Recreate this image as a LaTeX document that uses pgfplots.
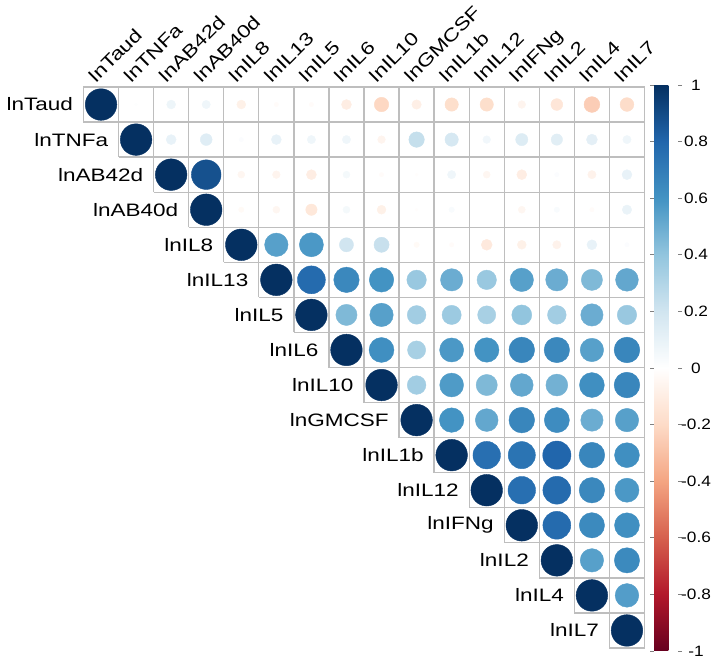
\documentclass[border=0pt]{standalone}
\usepackage{pgfplots}
\pgfplotsset{compat=1.18}
\usepackage{fontspec}
\setmainfont{Liberation Sans}
\definecolor{gridc}{HTML}{BEBEBE}
\newcommand\lab{\fontsize{18}{21}\selectfont}
\newcommand\st[1]{\scalebox{1.25}[1]{#1}}
\tikzset{rl/.style={anchor=east, font=\lab, xshift=-7pt},
         cl/.style={rotate=45, anchor=base west, font=\lab, inner sep=0pt, xshift=-1pt, yshift=6pt}}
\begin{document}
\begin{tikzpicture}
\begin{axis}[
  at={(0,0)}, anchor=south west,
  scale only axis, width=561pt, height=561pt,
  xmin=0.5, xmax=16.5, ymin=0.5, ymax=16.5, y dir=reverse,
  axis line style={draw=none}, xtick=\empty, ytick=\empty,
  clip=false,
  colormap={rdbu}{HTML=(67001F) HTML=(B2182B) HTML=(D6604D) HTML=(F4A582) HTML=(FDDBC7) HTML=(FFFFFF) HTML=(D1E5F0) HTML=(92C5DE) HTML=(4393C3) HTML=(2166AC) HTML=(053061)},
  point meta min=-1, point meta max=1,
  colorbar,
  colorbar style={
    at={(parent axis.north east)}, anchor=north west, xshift=1pt, yshift=2pt,
    width=24pt, height=566pt,
    ytick={-1,-0.8,-0.6,-0.4,-0.2,0,0.2,0.4,0.6,0.8,1},
    yticklabel={\scalebox{1.15}[1]{\pgfmathprintnumber[fixed,precision=1,assume math mode=true]{\tick}}},
    yticklabel style={font=\fontsize{15}{17}\selectfont, anchor=center, xshift=14pt},
    tick align=outside, major tick length=4pt, tick style={gray, line width=0.8pt},
    axis line style={draw=none},
  },
]
% grid
\draw[gridc, line width=1.3pt] (axis cs:0.5,0.5) -- (axis cs:16.5,0.5);
\draw[gridc, line width=1.3pt] (axis cs:16.5,0.5) -- (axis cs:16.5,16.5);
\pgfplotsinvokeforeach{1,...,16}{
  \draw[gridc, line width=1.3pt] (axis cs:#1-0.5,0.5) -- (axis cs:#1-0.5,#1+0.5);
  \draw[gridc, line width=1.3pt] (axis cs:#1-0.5,#1+0.5) -- (axis cs:16.5,#1+0.5);
}
\addplot[scatter, only marks, mark=*, scatter src=explicit,
  scatter/use mapped color={draw=mapped color, fill=mapped color},
  visualization depends on={15.8*sqrt(abs(\thisrow{r}))\as\rad},
  scatter/@pre marker code/.append style={/tikz/mark size=\rad}]
  table[x=x,y=y,meta=r]{
x y r
1 1 1
2 1 0.01
3 1 0.08
4 1 0.07
5 1 -0.08
6 1 -0.02
7 1 -0.02
8 1 -0.1
9 1 -0.21
10 1 -0.09
11 1 -0.18
12 1 -0.18
13 1 -0.06
14 1 -0.14
15 1 -0.25
16 1 -0.19
2 2 1
3 2 0.1
4 2 0.14
5 2 0.02
6 2 0.1
7 2 0.07
8 2 0.07
9 2 -0.06
10 2 0.24
11 2 0.18
12 2 0.06
13 2 0.15
14 2 0.13
15 2 0.12
16 2 0.07
3 3 1
4 3 0.88
5 3 -0.05
6 3 -0.06
7 3 -0.1
8 3 0.05
9 3 -0.02
10 3 -0.01
11 3 0.07
12 3 -0.05
13 3 -0.1
14 3 0.02
15 3 -0.07
16 3 0.1
4 4 1
5 4 -0.03
6 4 -0.05
7 4 -0.13
8 4 0.05
9 4 -0.08
10 4 -0.01
11 4 0.03
12 4 0.0
13 4 -0.05
14 4 0.03
15 4 -0.02
16 4 0.09
5 5 1
6 5 0.55
7 5 0.58
8 5 0.2
9 5 0.23
10 5 -0.03
11 5 -0.02
12 5 -0.12
13 5 -0.08
14 5 -0.07
15 5 0.1
16 5 0.02
6 6 1
7 6 0.78
8 6 0.65
9 6 0.6
10 6 0.38
11 6 0.5
12 6 0.38
13 6 0.55
14 6 0.5
15 6 0.45
16 6 0.52
7 7 1
8 7 0.45
9 7 0.55
10 7 0.35
11 7 0.37
12 7 0.33
13 7 0.4
14 7 0.35
15 7 0.5
16 7 0.38
8 8 1
9 8 0.62
10 8 0.33
11 8 0.58
12 8 0.6
13 8 0.66
14 8 0.65
15 8 0.55
16 8 0.66
9 9 1
10 9 0.35
11 9 0.57
12 9 0.45
13 9 0.52
14 9 0.48
15 9 0.62
16 9 0.66
10 10 1
11 10 0.6
12 10 0.52
13 10 0.66
14 10 0.63
15 10 0.5
16 10 0.55
11 11 1
12 11 0.76
13 11 0.74
14 11 0.8
15 11 0.66
16 11 0.62
12 12 1
13 12 0.76
14 12 0.78
15 12 0.65
16 12 0.58
13 13 1
14 13 0.78
15 13 0.64
16 13 0.62
14 14 1
15 14 0.55
16 14 0.64
15 15 1
16 15 0.56
16 16 1
};
% row labels
\node[rl] at (axis cs:0.5,1) {\st{lnTaud}};
\node[rl] at (axis cs:1.5,2) {\st{lnTNFa}};
\node[rl] at (axis cs:2.5,3) {\st{lnAB42d}};
\node[rl] at (axis cs:3.5,4) {\st{lnAB40d}};
\node[rl] at (axis cs:4.5,5) {\st{lnIL8}};
\node[rl] at (axis cs:5.5,6) {\st{lnIL13}};
\node[rl] at (axis cs:6.5,7) {\st{lnIL5}};
\node[rl] at (axis cs:7.5,8) {\st{lnIL6}};
\node[rl] at (axis cs:8.5,9) {\st{lnIL10}};
\node[rl] at (axis cs:9.5,10) {\st{lnGMCSF}};
\node[rl] at (axis cs:10.5,11) {\st{lnIL1b}};
\node[rl] at (axis cs:11.5,12) {\st{lnIL12}};
\node[rl] at (axis cs:12.5,13) {\st{lnIFNg}};
\node[rl] at (axis cs:13.5,14) {\st{lnIL2}};
\node[rl] at (axis cs:14.5,15) {\st{lnIL4}};
\node[rl] at (axis cs:15.5,16) {\st{lnIL7}};
% column labels
\node[cl] at (axis cs:1,0.5) {\st{lnTaud}};
\node[cl] at (axis cs:2,0.5) {\st{lnTNFa}};
\node[cl] at (axis cs:3,0.5) {\st{lnAB42d}};
\node[cl] at (axis cs:4,0.5) {\st{lnAB40d}};
\node[cl] at (axis cs:5,0.5) {\st{lnIL8}};
\node[cl] at (axis cs:6,0.5) {\st{lnIL13}};
\node[cl] at (axis cs:7,0.5) {\st{lnIL5}};
\node[cl] at (axis cs:8,0.5) {\st{lnIL6}};
\node[cl] at (axis cs:9,0.5) {\st{lnIL10}};
\node[cl] at (axis cs:10,0.5) {\st{lnGMCSF}};
\node[cl] at (axis cs:11,0.5) {\st{lnIL1b}};
\node[cl] at (axis cs:12,0.5) {\st{lnIL12}};
\node[cl] at (axis cs:13,0.5) {\st{lnIFNg}};
\node[cl] at (axis cs:14,0.5) {\st{lnIL2}};
\node[cl] at (axis cs:15,0.5) {\st{lnIL4}};
\node[cl] at (axis cs:16,0.5) {\st{lnIL7}};
\end{axis}
\pgfresetboundingbox
\useasboundingbox (-83.5pt,-10pt) rectangle (636.5pt,648pt);
\end{tikzpicture}
\end{document}
